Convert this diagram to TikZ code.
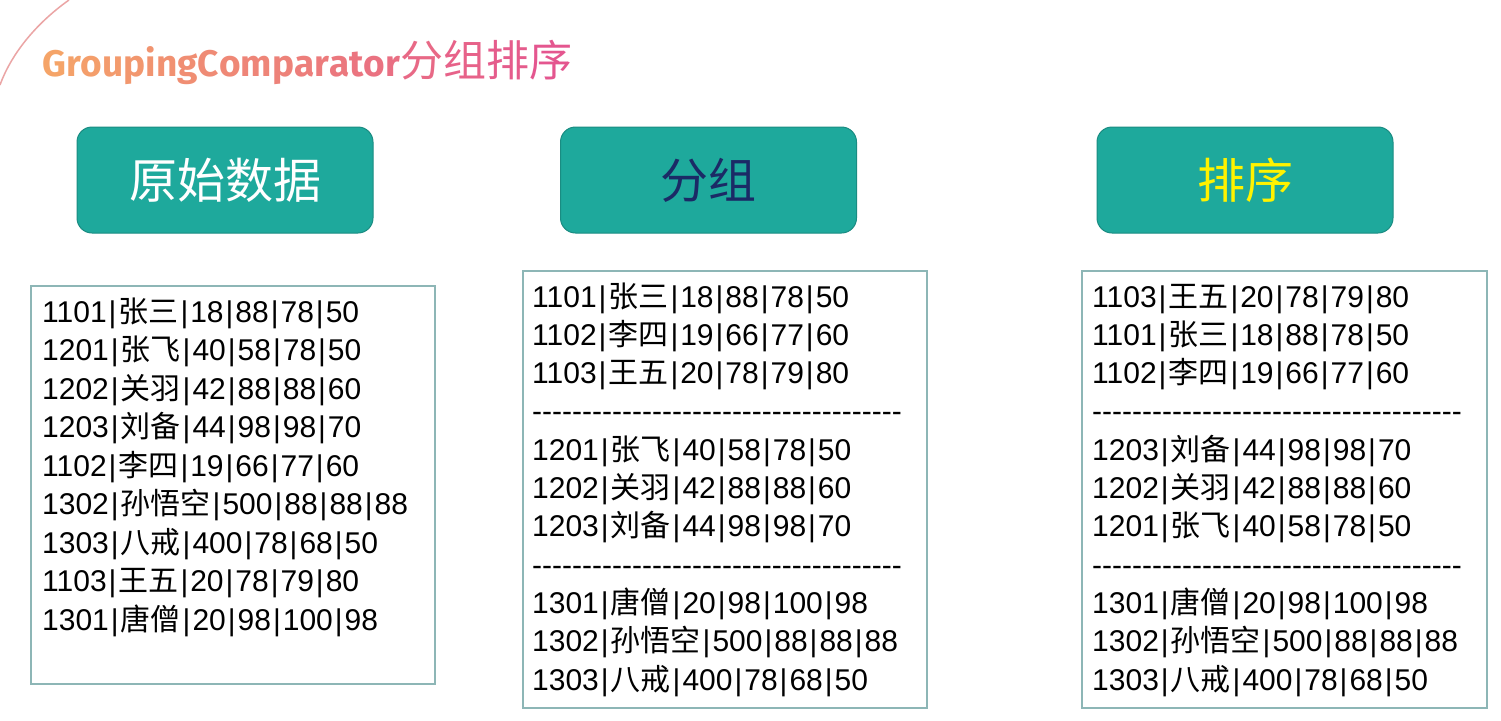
\documentclass[tikz,border=0pt]{standalone}
\usepackage{fontspec}
\setmainfont{Liberation Sans}
\newfontfamily\cjk{Noto Sans CJK SC}
\newfontfamily\titlefont{Fira Sans}
\definecolor{tealfill}{HTML}{1EA99C}
\definecolor{tealdk}{HTML}{1A8C82}
\definecolor{boxln}{HTML}{8DB6B6}
\definecolor{tOr}{HTML}{F5A468}
\definecolor{tPk}{HTML}{E4568F}
\definecolor{navy}{HTML}{1B2A66}
\definecolor{arcc}{HTML}{EBA5A5}
\newcommand\C[1]{{\cjk #1}}
\newcommand\p{\kern2pt|\kern2pt}
\newcommand\gc[2]{\textcolor{tOr!#1!tPk}{#2}}
\newcommand\dashrow{\foreach \k in {1,...,37}{-}}
\tikzset{
  headbox/.style={rectangle, rounded corners=15pt, fill=tealfill, draw=tealdk, line width=1pt,
    minimum width=296pt, minimum height=106pt, inner sep=0pt},
  headtxt/.style={inner sep=0pt, font=\cjk\fontsize{48}{52}\selectfont},
  listbox/.style={rectangle, draw=boxln, line width=1.3pt, inner sep=0pt},
  row/.style={anchor=base west, inner sep=0pt, font=\fontsize{30}{36}\selectfont},
}
\begin{document}
\begin{tikzpicture}[x=1pt,y=-1pt]
\useasboundingbox (0,0) rectangle (1501,720);
\fill[white] (0,0) rectangle (1501,720);
% decorative arc
\draw[arcc, line width=1.5pt] (69,0) .. controls (38,22) and (12,52) .. (0,85);
% title
\node[anchor=base west, inner sep=0pt] (title) at (42,76) {\titlefont\bfseries\fontsize{37}{40}\selectfont
 \gc{100}{G}\gc{96}{r}\gc{92}{o}\gc{88}{u}\gc{84}{p}\gc{80}{i}\gc{76}{n}\gc{72}{g}%
 \gc{68}{C}\gc{64}{o}\gc{60}{m}\gc{56}{p}\gc{52}{a}\gc{48}{r}\gc{44}{a}\gc{40}{t}\gc{36}{o}\gc{32}{r}%
 {\cjk\mdseries\fontsize{43}{48}\selectfont\gc{24}{分}\gc{16}{组}\gc{8}{排}\gc{0}{序}}};
% header boxes
\node[headbox] (h1) at (225,180) {};
\node[headbox] (h2) at (708.5,180) {};
\node[headbox] (h3) at (1245,180) {};
\node[headtxt, text=white] (t1) at (h1.center) {原始数据};
\node[headtxt, text=navy] (t2) at (h2.center) {分组};
\node[headtxt, text=yellow] (t3) at (h3.center) {排序};
% list boxes
\node[listbox, minimum width=404pt, minimum height=398pt] (A) at (233,485) {};
\node[listbox, minimum width=404pt, minimum height=437pt] (B) at (725,489.5) {};
\node[listbox, minimum width=405pt, minimum height=437pt] (Cb) at (1284.5,489.5) {};
% list A
\foreach \t [count=\i] in {
 {1101\p\C{张三}\p18\p88\p78\p50},
 {1201\p\C{张飞}\p40\p58\p78\p50},
 {1202\p\C{关羽}\p42\p88\p88\p60},
 {1203\p\C{刘备}\p44\p98\p98\p70},
 {1102\p\C{李四}\p19\p66\p77\p60},
 {1302\p\C{孙悟空}\p500\p88\p88\p88},
 {1303\p\C{八戒}\p400\p78\p68\p50},
 {1103\p\C{王五}\p20\p78\p79\p80},
 {1301\p\C{唐僧}\p20\p98\p100\p98}}
 \node[row] (a\i) at (42,{322+(\i-1)*38.5}) {\t};
% list B
\foreach \t [count=\i] in {
 {1101\p\C{张三}\p18\p88\p78\p50},
 {1102\p\C{李四}\p19\p66\p77\p60},
 {1103\p\C{王五}\p20\p78\p79\p80},
 {\dashrow},
 {1201\p\C{张飞}\p40\p58\p78\p50},
 {1202\p\C{关羽}\p42\p88\p88\p60},
 {1203\p\C{刘备}\p44\p98\p98\p70},
 {\dashrow},
 {1301\p\C{唐僧}\p20\p98\p100\p98},
 {1302\p\C{孙悟空}\p500\p88\p88\p88},
 {1303\p\C{八戒}\p400\p78\p68\p50}}
 \node[row] (b\i) at (532,{307+(\i-1)*38.3}) {\t};
% list C
\foreach \t [count=\i] in {
 {1103\p\C{王五}\p20\p78\p79\p80},
 {1101\p\C{张三}\p18\p88\p78\p50},
 {1102\p\C{李四}\p19\p66\p77\p60},
 {\dashrow},
 {1203\p\C{刘备}\p44\p98\p98\p70},
 {1202\p\C{关羽}\p42\p88\p88\p60},
 {1201\p\C{张飞}\p40\p58\p78\p50},
 {\dashrow},
 {1301\p\C{唐僧}\p20\p98\p100\p98},
 {1302\p\C{孙悟空}\p500\p88\p88\p88},
 {1303\p\C{八戒}\p400\p78\p68\p50}}
 \node[row] (c\i) at (1092,{307+(\i-1)*38.3}) {\t};
\end{tikzpicture}
\end{document}
